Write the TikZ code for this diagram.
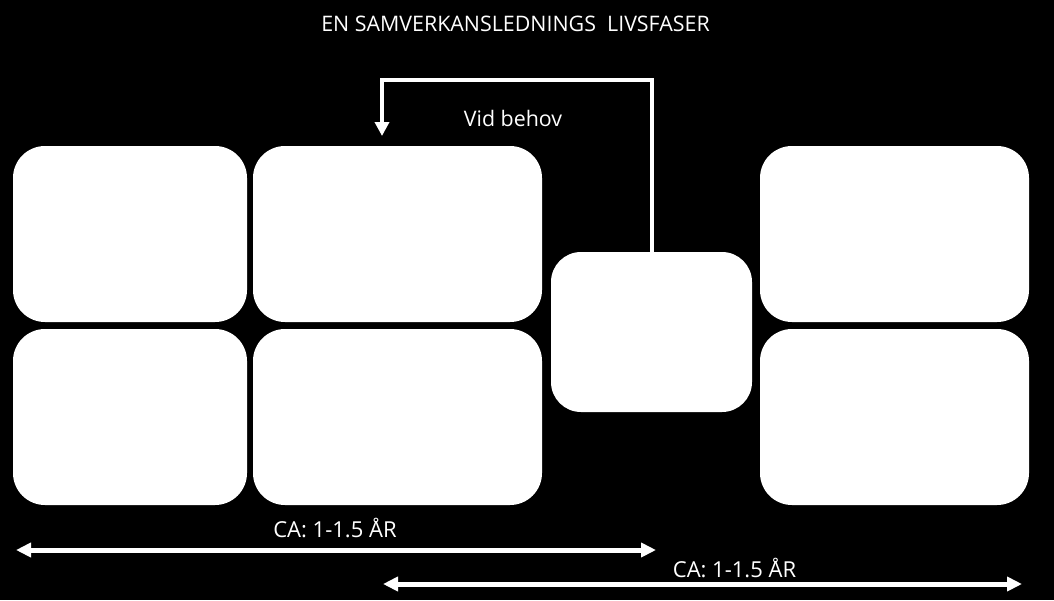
\documentclass[tikz,border=0pt]{standalone}
\usepackage{fontspec}
\setmainfont{Open Sans}
\usetikzlibrary{positioning,arrows.meta}

\begin{document}
\begin{tikzpicture}[x=0.5pt, y=-0.5pt,
    phase/.style={rectangle, fill=white, rounded corners=16pt, inner sep=0pt, outer sep=0pt, minimum height=88pt},
    duration/.style={white, line width=2.5pt, {Triangle[length=7.5pt,width=7pt]}-{Triangle[length=7.5pt,width=7pt]}},
    note/.style={text=white, anchor=base, inner sep=0pt, font=\fontsize{10.7}{13}\selectfont}]

    % Background
    \fill[black] (0,0) rectangle (1054,600);

    \node[note] (title) at (515.5,31) {EN SAMVERKANSLEDNINGS\ \ LIVSFASER};

    % Phases
    \node[phase, minimum width=117pt, anchor=north west] (a1) at (13,146) {};
    \node[phase, minimum width=117pt, below=3.5pt of a1] (a2) {};
    \node[phase, minimum width=144.5pt, right=3pt of a1] (b1) {};
    \node[phase, minimum width=144.5pt, right=3pt of a2] (b2) {};
    \node[phase, minimum width=100.5pt, minimum height=80pt, rounded corners=15pt, anchor=north west] (c) at (551,252) {};
    \node[phase, minimum width=134.5pt, anchor=north west] (d1) at (760,146) {};
    \node[phase, minimum width=134.5pt, below=3.5pt of d1] (d2) {};

    % Back loop
    \coordinate (bend) at (382,80);
    \coordinate (back) at (382,136);
    \draw[white, line width=2pt, -{Triangle[length=7pt,width=7pt]}] (c.north) |- (bend) -- (back);
    \node[note] (need) at (513,126) {Vid behov};

    % Durations
    \coordinate (first start) at (16,550);
    \coordinate (first end) at (656,550);
    \coordinate (second start) at (383,584);
    \coordinate (second end) at (1022,584);
    \draw[duration] (first start) -- (first end);
    \draw[duration] (second start) -- (second end);
    \node[note, font=\fontsize{11}{13}\selectfont] (first) at (335,537) {CA: 1-1.5 ÅR};
    \node[note, font=\fontsize{11}{13}\selectfont] (second) at (734.5,577) {CA: 1-1.5 ÅR};
\end{tikzpicture}
\end{document}
